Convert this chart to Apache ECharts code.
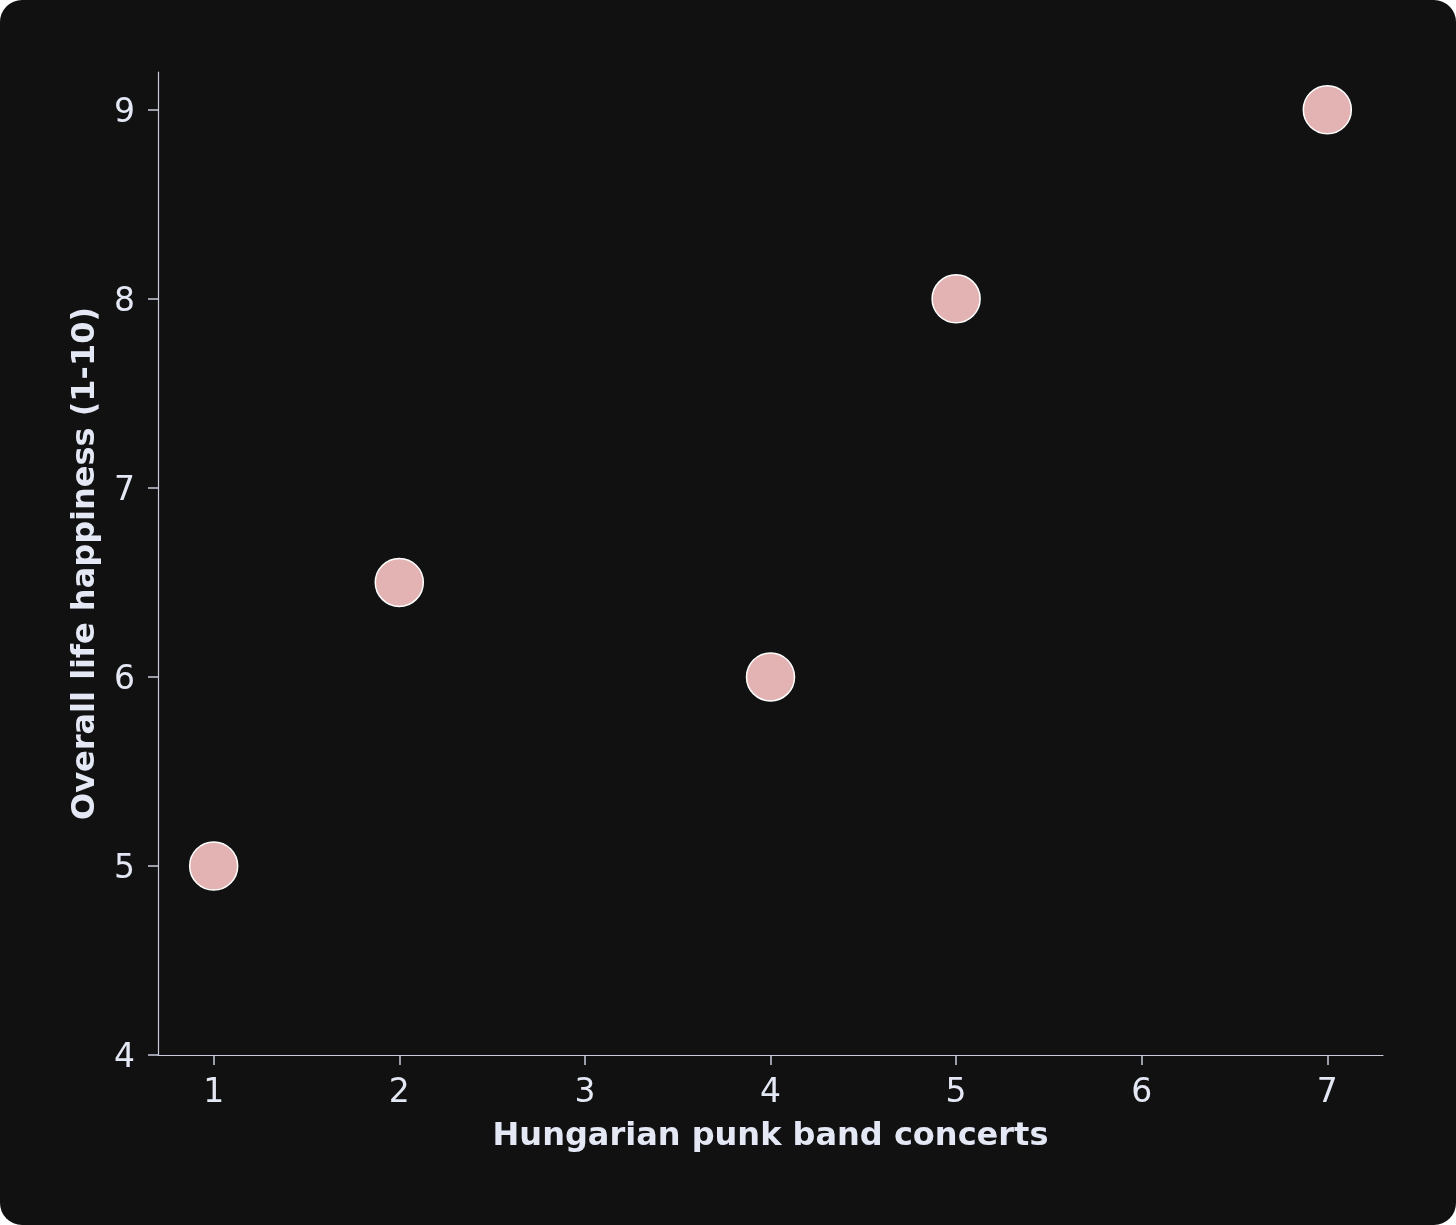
<!DOCTYPE html>
<html>
<head>
<meta charset="utf-8">
<script src="https://cdn.jsdelivr.net/npm/echarts@6/dist/echarts.min.js"></script>
<style>
  html, body { margin: 0; padding: 0; background: #ffffff; }
  #card { width: 1456px; height: 1225px; background: #111111; border-radius: 22px; overflow: hidden; }
  #chart { width: 1456px; height: 1225px; }
</style>
</head>
<body>
<div id="card"><div id="chart"></div></div>
<script>
// data
const concerts = [1, 2, 4, 5, 7];
const happiness = [5, 6.5, 6, 8, 9];
const xTicks = [1, 2, 3, 4, 5, 6, 7];
const yTicks = [4, 5, 6, 7, 8, 9];

const axisColor = '#c9cbdc';
const textColor = '#e4e8f5';
const font = 'DejaVu Sans';

const chart = echarts.init(document.getElementById('chart'));

const option = {
    backgroundColor: 'transparent',
    animation: false,
    grid: {
        left: 158,
        right: 73,
        top: 72,
        bottom: 170,
        containLabel: false
    },
    xAxis: {
        type: 'value',
        min: 0.7,
        max: 7.3,
        name: 'Hungarian punk band concerts',
        nameLocation: 'middle',
        nameGap: 66,
        nameTextStyle: { color: textColor, fontFamily: font, fontSize: 32, fontWeight: 'bold' },
        axisLine: { show: true, lineStyle: { color: axisColor, width: 1.2 } },
        axisTick: { show: true, length: 10, customValues: xTicks, lineStyle: { color: axisColor, width: 1.5 } },
        axisLabel: { customValues: xTicks, color: textColor, fontFamily: font, fontSize: 33, margin: 22 },
        splitLine: { show: false }
    },
    yAxis: {
        type: 'value',
        min: 4,
        max: 9.2,
        name: 'Overall life happiness (1-10)',
        nameLocation: 'middle',
        nameGap: 56,
        nameTextStyle: { color: textColor, fontFamily: font, fontSize: 32, fontWeight: 'bold' },
        axisLine: { show: true, lineStyle: { color: axisColor, width: 1.2 } },
        axisTick: { show: true, length: 10, customValues: yTicks, lineStyle: { color: axisColor, width: 1.5 } },
        axisLabel: {
            customValues: yTicks,
            margin: 23,
            formatter: '{t|{value}}',
            rich: {
                t: { color: textColor, fontFamily: font, fontSize: 33, padding: [7, 0, 0, 0] }
            }
        },
        splitLine: { show: false }
    },
    series: [
        {
            type: 'scatter',
            data: concerts.map((x, i) => [x, happiness[i]]),
            symbolSize: 48,
            itemStyle: {
                color: '#e3b3b3',
                borderColor: '#ffffff',
                borderWidth: 1.5,
                opacity: 1
            }
        }
    ]
};

chart.setOption(option);
</script>
</body>
</html>
